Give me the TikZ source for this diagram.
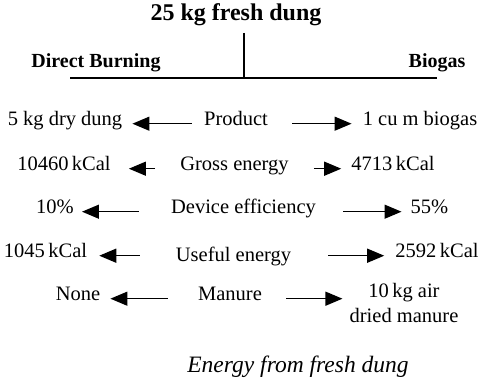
\documentclass[tikz,border=0pt]{standalone}
\usepackage{fontspec}
\setmainfont{Liberation Serif}
\usetikzlibrary{arrows.meta}

\tikzset{
  txt/.style={inner sep=0pt, anchor=base, font=\fontsize{20.5}{24}\selectfont, text height=.68em, text depth=.22em},
  head/.style={inner sep=0pt, anchor=base, font=\fontsize{20}{24}\selectfont\bfseries},
  arr/.style={-{Triangle[length=17pt,width=14pt]}, line width=1.3pt},
  branch/.style={line width=2pt}
}

\begin{document}
\begin{tikzpicture}[x=1pt,y=-1pt]
\useasboundingbox (0,0) rectangle (493,390);

%top of the tree
\node[head, font=\fontsize{24}{28}\selectfont\bfseries] (dung) at (236,21) {25 kg fresh dung};
\node[head] (burn) at (96,68) {Direct Burning};
\node[head] (bgas) at (437,68) {Biogas};

\coordinate (top) at (244,33);
\coordinate (joint) at (244,78);
\coordinate (lend) at (70,78);
\coordinate (rend) at (437,78);
\draw[branch] (top) -- (joint);
\draw[branch] (lend) -- (rend);

%row 1
\node[txt] (prod) at (236,126) {Product};
\node[txt] (dry) at (65,126) {5 kg dry dung};
\node[txt] (cum) at (420,126) {1 cu m biogas};
\draw[arr, shorten <=12pt, shorten >=10pt] (prod.west) -- (dry.east);
\draw[arr, shorten <=24pt, shorten >=11pt] (prod.east) -- (cum.west);

%row 2
\node[txt] (gross) at (234.5,171) {Gross energy};
\node[txt] (grossL) at (64,171) {10460\,kCal};
\node[txt] (grossR) at (393,171) {4713\,kCal};
\draw[arr, shorten <=25pt, shorten >=18pt] (gross.west) -- (grossL.east);
\draw[arr, shorten <=25pt, shorten >=10pt] (gross.east) -- (grossR.west);

%row 3
\node[txt] (dev) at (243.5,214) {Device efficiency};
\node[txt] (devL) at (55,214) {10\%};
\node[txt] (devR) at (429.5,214) {55\%};
\draw[arr, shorten <=32pt, shorten >=8pt] (dev.west) -- (devL.east);
\draw[arr, shorten <=27pt, shorten >=9pt] (dev.east) -- (devR.west);

%row 4
\node[txt] (use) at (233.5,262) {Useful energy};
\node[txt] (useL) at (45.5,258) {1045\,kCal};
\node[txt] (useR) at (437,258) {2592\,kCal};
\draw[arr, shorten <=36pt, shorten >=12pt] (use.west |- useL) -- (useL.east);
\draw[arr, shorten <=37pt, shorten >=11pt] (use.east |- useR) -- (useR.west);

%row 5
\node[txt] (man) at (230,301) {Manure};
\node[txt] (manL) at (78,301) {None};
\node[inner sep=0pt, align=center, font=\fontsize{20.5}{25}\selectfont] (manR) at (404,303) {10\,kg air\\dried manure};
\draw[arr, shorten <=30pt, shorten >=10pt] (man.west) -- (manL.east);
\draw[arr, shorten <=24pt, shorten >=7pt] (man.east) -- (man.east -| manR.west);

%caption
\node[inner sep=0pt, anchor=base, font=\fontsize{23.5}{28}\selectfont\itshape] (capt) at (298,372) {Energy from fresh dung};
\end{tikzpicture}
\end{document}
